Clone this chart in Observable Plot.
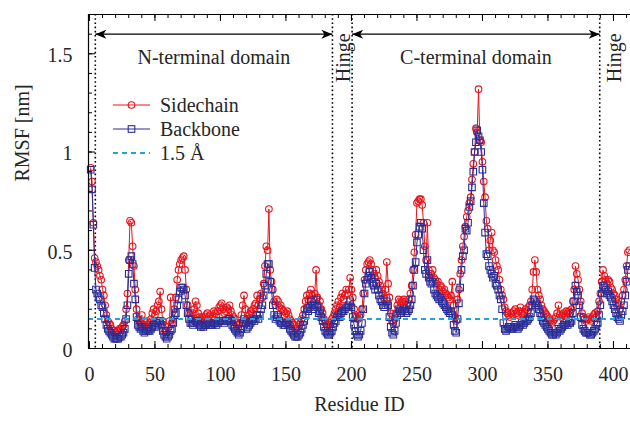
<!DOCTYPE html>
<html><head><meta charset="utf-8">
<script src="https://cdn.jsdelivr.net/npm/d3@7"></script>
<script src="https://cdn.jsdelivr.net/npm/@observablehq/plot@0.6"></script>
<style>
body{margin:0;background:#fff;}
#chart{width:630px;height:422px;}
svg{display:block;}
</style></head><body><div id="chart"></div>
<script>
// RMSF per residue (nm), residues 1..412
const sidechain = [
0.92,0.85,0.64,0.46,0.44,0.42,0.40,0.37,0.35,0.30,
0.27,0.22,0.17,0.14,0.13,0.12,0.10,0.09,0.09,0.08,
0.09,0.09,0.10,0.10,0.11,0.12,0.14,0.20,0.28,0.45,
0.65,0.64,0.52,0.42,0.30,0.20,0.15,0.14,0.13,0.17,
0.12,0.12,0.13,0.14,0.12,0.13,0.15,0.18,0.20,0.17,
0.19,0.22,0.24,0.29,0.20,0.14,0.10,0.09,0.09,0.11,
0.14,0.26,0.13,0.15,0.20,0.26,0.35,0.40,0.43,0.45,
0.46,0.47,0.40,0.30,0.22,0.18,0.17,0.16,0.18,0.20,
0.24,0.22,0.18,0.16,0.15,0.16,0.15,0.16,0.17,0.18,
0.16,0.17,0.15,0.16,0.19,0.18,0.17,0.19,0.21,0.22,
0.23,0.20,0.18,0.19,0.21,0.20,0.22,0.19,0.17,0.16,
0.15,0.13,0.12,0.12,0.13,0.17,0.22,0.27,0.20,0.14,
0.15,0.17,0.19,0.18,0.20,0.22,0.23,0.27,0.22,0.25,
0.28,0.26,0.33,0.42,0.52,0.50,0.71,0.40,0.34,0.30,
0.24,0.22,0.25,0.24,0.21,0.22,0.20,0.19,0.17,0.18,
0.19,0.17,0.15,0.14,0.13,0.12,0.10,0.10,0.11,0.12,
0.13,0.15,0.17,0.20,0.24,0.27,0.25,0.28,0.30,0.27,
0.25,0.28,0.40,0.26,0.22,0.24,0.20,0.18,0.15,0.13,
0.12,0.11,0.12,0.13,0.15,0.16,0.18,0.20,0.22,0.24,
0.21,0.26,0.28,0.25,0.27,0.30,0.28,0.30,0.36,0.30,
0.26,0.20,0.17,0.16,0.15,0.16,0.17,0.20,0.28,0.35,
0.40,0.43,0.44,0.45,0.43,0.40,0.38,0.36,0.40,0.37,
0.34,0.32,0.30,0.28,0.26,0.30,0.44,0.33,0.26,0.18,
0.14,0.13,0.15,0.18,0.22,0.25,0.24,0.23,0.24,0.25,
0.24,0.22,0.23,0.25,0.28,0.32,0.40,0.49,0.58,0.74,
0.75,0.76,0.76,0.73,0.64,0.52,0.45,0.64,0.40,0.36,
0.38,0.40,0.36,0.35,0.33,0.34,0.30,0.32,0.31,0.29,
0.30,0.28,0.27,0.26,0.25,0.27,0.34,0.22,0.16,0.14,
0.25,0.30,0.38,0.45,0.52,0.57,0.62,0.67,0.70,0.74,
0.77,0.86,0.94,1.00,1.12,1.10,1.32,1.06,1.05,0.95,
0.85,0.77,0.65,0.61,0.50,0.55,0.59,0.50,0.49,0.45,
0.42,0.40,0.35,0.30,0.27,0.25,0.21,0.19,0.18,0.17,
0.16,0.18,0.17,0.19,0.20,0.18,0.17,0.19,0.21,0.18,
0.17,0.18,0.20,0.19,0.21,0.22,0.24,0.30,0.39,0.45,
0.39,0.30,0.27,0.25,0.22,0.20,0.19,0.18,0.17,0.16,
0.15,0.14,0.13,0.14,0.15,0.16,0.18,0.22,0.17,0.16,
0.17,0.18,0.17,0.19,0.18,0.19,0.18,0.20,0.24,0.30,
0.42,0.38,0.35,0.30,0.24,0.18,0.16,0.15,0.14,0.15,
0.16,0.15,0.14,0.16,0.17,0.18,0.16,0.19,0.24,0.28,
0.34,0.40,0.37,0.35,0.33,0.35,0.34,0.31,0.30,0.28,
0.27,0.25,0.23,0.22,0.20,0.24,0.27,0.30,0.35,0.42,0.49,0.50
];
const backbone = [
0.91,0.81,0.63,0.41,0.30,0.28,0.26,0.25,0.22,0.21,
0.18,0.15,0.12,0.10,0.09,0.08,0.07,0.06,0.05,0.05,
0.05,0.05,0.06,0.06,0.07,0.08,0.10,0.15,0.22,0.38,
0.45,0.47,0.43,0.33,0.25,0.16,0.12,0.11,0.10,0.11,
0.09,0.08,0.09,0.10,0.09,0.09,0.10,0.11,0.12,0.11,
0.13,0.13,0.14,0.14,0.12,0.09,0.07,0.06,0.05,0.06,
0.07,0.09,0.10,0.13,0.17,0.18,0.22,0.25,0.29,0.31,
0.31,0.30,0.27,0.22,0.18,0.15,0.13,0.13,0.12,0.13,
0.14,0.14,0.13,0.12,0.11,0.12,0.11,0.12,0.12,0.13,
0.12,0.13,0.12,0.12,0.13,0.13,0.12,0.13,0.14,0.14,
0.14,0.14,0.13,0.14,0.14,0.15,0.15,0.14,0.12,0.11,
0.10,0.09,0.08,0.07,0.08,0.10,0.13,0.15,0.13,0.10,
0.11,0.12,0.13,0.14,0.15,0.14,0.15,0.17,0.15,0.17,
0.20,0.22,0.27,0.32,0.38,0.43,0.43,0.34,0.30,0.22,
0.17,0.15,0.16,0.17,0.14,0.13,0.13,0.12,0.12,0.13,
0.13,0.12,0.10,0.09,0.08,0.07,0.06,0.06,0.06,0.07,
0.08,0.10,0.12,0.14,0.17,0.20,0.19,0.21,0.24,0.22,
0.20,0.22,0.25,0.21,0.18,0.19,0.16,0.14,0.11,0.09,
0.08,0.07,0.07,0.08,0.09,0.11,0.13,0.14,0.16,0.17,
0.16,0.18,0.19,0.19,0.20,0.21,0.21,0.22,0.24,0.21,
0.16,0.12,0.09,0.07,0.06,0.07,0.09,0.13,0.20,0.28,
0.33,0.35,0.37,0.39,0.36,0.34,0.32,0.30,0.33,0.30,
0.27,0.25,0.24,0.22,0.21,0.22,0.24,0.22,0.16,0.11,
0.08,0.07,0.09,0.13,0.17,0.20,0.19,0.18,0.19,0.20,
0.19,0.18,0.19,0.20,0.22,0.25,0.32,0.40,0.44,0.54,
0.58,0.62,0.64,0.61,0.50,0.40,0.38,0.45,0.36,0.34,
0.33,0.34,0.30,0.28,0.27,0.26,0.25,0.26,0.24,0.23,
0.22,0.21,0.20,0.19,0.18,0.19,0.17,0.12,0.09,0.08,
0.15,0.23,0.31,0.40,0.47,0.50,0.61,0.60,0.64,0.72,
0.75,0.82,0.90,1.00,1.05,1.11,1.08,1.06,1.00,0.91,
0.74,0.59,0.48,0.47,0.42,0.40,0.38,0.36,0.37,0.33,
0.32,0.30,0.27,0.25,0.20,0.13,0.10,0.09,0.10,0.11,
0.10,0.11,0.10,0.11,0.12,0.11,0.10,0.11,0.12,0.13,
0.12,0.13,0.14,0.14,0.15,0.16,0.18,0.22,0.25,0.24,
0.23,0.22,0.20,0.18,0.16,0.14,0.13,0.12,0.11,0.10,
0.09,0.08,0.07,0.07,0.08,0.07,0.08,0.10,0.09,0.10,
0.11,0.12,0.12,0.13,0.12,0.13,0.13,0.14,0.18,0.24,
0.32,0.29,0.27,0.22,0.16,0.12,0.10,0.09,0.08,0.08,
0.08,0.07,0.07,0.08,0.09,0.10,0.12,0.13,0.17,0.22,
0.28,0.32,0.31,0.30,0.28,0.29,0.27,0.26,0.24,0.22,
0.20,0.18,0.16,0.15,0.14,0.17,0.19,0.22,0.27,0.34,0.40,0.42
];
const threshold = 0.15; // 1.5 Å in nm
const xTickLabels = [0, 50, 100, 150, 200, 250, 300, 350, 400];
const yTickValues = [0, 0.5, 1, 1.5];
const yTickLabels = ["0", "0.5", "1", "1.5"];
const domainBounds = [4.5, 185.5, 200.5, 389.5];
const domainNames = ["N-terminal domain", "C-terminal domain"];
const domainSpans = [[4.5, 185.5], [200.5, 389.5]];
const hingeCenters = [194, 401];
const legendItems = ["Sidechain", "Backbone", "1.5 Å"];

const W = 630, H = 422, mL = 88, mR = 0, mT = 14, mB = 74;
const plotW = W - mL - mR, plotH = H - mT - mB;
const xDomain = [-0.7, 413];
const yDomain = [0, 1.7];
const RED = "#e8141c", BLUE = "#2a2d98", CYAN = "#1ea6da", INK = "#262626";
const font = "'Liberation Serif','Times New Roman',serif";

const rows = sidechain.map((s, i) => ({res: i + 1, side: s, back: backbone[i]}));
const xMinor = d3.range(0, 414, 10);
const yMinor = d3.range(0, 1.71, 0.1);
const arrowRows = domainSpans.map(([a, b], i) => ({a, b, mid: (a + b) / 2, name: domainNames[i]}));

// filled "stealth" arrowhead, tip at origin pointing right
const stealth = {draw(ctx) { ctx.moveTo(0, 0); ctx.lineTo(-11, -4.5); ctx.lineTo(-8, 0); ctx.lineTo(-11, 4.5); ctx.closePath(); }};
const annY = 1.60, labY = 1.48;

const svg = Plot.plot({
  width: W, height: H, marginLeft: mL, marginRight: mR, marginTop: mT, marginBottom: mB,
  style: {fontFamily: font, fontSize: "20px", color: INK, background: "#fff"},
  x: {domain: xDomain, axis: null},
  y: {domain: yDomain, axis: null},
  marks: [
    Plot.ruleX(domainBounds, {stroke: "#000", strokeWidth: 1.6, strokeDasharray: "1.6,2.6"}),
    Plot.line(rows, {x: "res", y: "side", stroke: RED, strokeWidth: 1}),
    Plot.dot(rows, {x: "res", y: "side", r: 3.3, stroke: RED, strokeWidth: 1.1, fill: "none"}),
    Plot.line(rows, {x: "res", y: "back", stroke: BLUE, strokeWidth: 1}),
    Plot.dot(rows, {x: "res", y: "back", symbol: "square", r: 3.7, stroke: BLUE, strokeWidth: 1.1, fill: "none"}),
    Plot.ruleY([threshold], {stroke: CYAN, strokeWidth: 2, strokeDasharray: "5,4"}),
    // frame
    Plot.ruleX([xDomain[0]], {stroke: "#000", strokeWidth: 1.2}),
    Plot.ruleY([yDomain[0]], {stroke: "#000", strokeWidth: 1.2}),
    Plot.ruleY([yDomain[1]], {stroke: "#000", strokeWidth: 1.2}),
    // inward ticks
    Plot.tickX(xMinor, {insetTop: plotH - 4, stroke: "#000"}),
    Plot.tickX(xTickLabels, {insetTop: plotH - 7, stroke: "#000"}),
    Plot.tickX(xMinor, {insetBottom: plotH - 4, stroke: "#000"}),
    Plot.tickX(xTickLabels, {insetBottom: plotH - 7, stroke: "#000"}),
    Plot.tickY(yMinor, {insetRight: plotW - 4, stroke: "#000"}),
    Plot.tickY(yTickValues, {insetRight: plotW - 7, stroke: "#000"}),
    // tick labels
    Plot.text(xTickLabels, {x: d => d, text: d => String(d), frameAnchor: "bottom", dy: 32, fill: INK}),
    Plot.text(yTickValues, {y: d => d, text: (d, i) => yTickLabels[i], frameAnchor: "left", dx: -16, dy: 2, textAnchor: "end", fill: INK}),
    Plot.text(["Residue ID"], {frameAnchor: "bottom", dy: 62, fill: INK}),
    Plot.text(["RMSF [nm]"], {frameAnchor: "left", dx: -66, rotate: -90, fill: INK}),
    // domain annotations
    Plot.link(arrowRows, {x1: "a", x2: "b", y1: annY, y2: annY, stroke: "#000", strokeWidth: 1.3}),
    Plot.dot(arrowRows, {x: "a", y: annY, symbol: stealth, rotate: 180, fill: "#000", stroke: "none"}),
    Plot.dot(arrowRows, {x: "b", y: annY, symbol: stealth, fill: "#000", stroke: "none"}),
    Plot.text(arrowRows, {x: "mid", y: labY, text: "name", fill: INK}),
    Plot.text(hingeCenters, {x: d => d, y: labY, text: () => "Hinge", rotate: -90, fill: INK})
  ]
});

// legend
const g = d3.select(svg).append("g").attr("font-family", font).attr("font-size", 20).attr("fill", INK).attr("text-anchor", "start");
const lx0 = 113, lx1 = 150, ly = [105, 129, 153];
g.append("line").attr("x1", lx0).attr("x2", lx1).attr("y1", ly[0]).attr("y2", ly[0]).attr("stroke", RED);
g.append("circle").attr("cx", (lx0 + lx1) / 2).attr("cy", ly[0]).attr("r", 3.3).attr("fill", "none").attr("stroke", RED).attr("stroke-width", 1.1);
g.append("line").attr("x1", lx0).attr("x2", lx1).attr("y1", ly[1]).attr("y2", ly[1]).attr("stroke", BLUE);
g.append("rect").attr("x", (lx0 + lx1) / 2 - 3.3).attr("y", ly[1] - 3.3).attr("width", 6.6).attr("height", 6.6).attr("fill", "none").attr("stroke", BLUE).attr("stroke-width", 1.1);
g.append("line").attr("x1", lx0).attr("x2", lx1).attr("y1", ly[2]).attr("y2", ly[2]).attr("stroke", CYAN).attr("stroke-width", 2).attr("stroke-dasharray", "5,4");
legendItems.forEach((t, i) => g.append("text").attr("x", 160).attr("y", ly[i]).attr("dy", "0.33em").attr("text-anchor", "start").text(t));

document.getElementById("chart").appendChild(svg);
</script>
</body></html>
